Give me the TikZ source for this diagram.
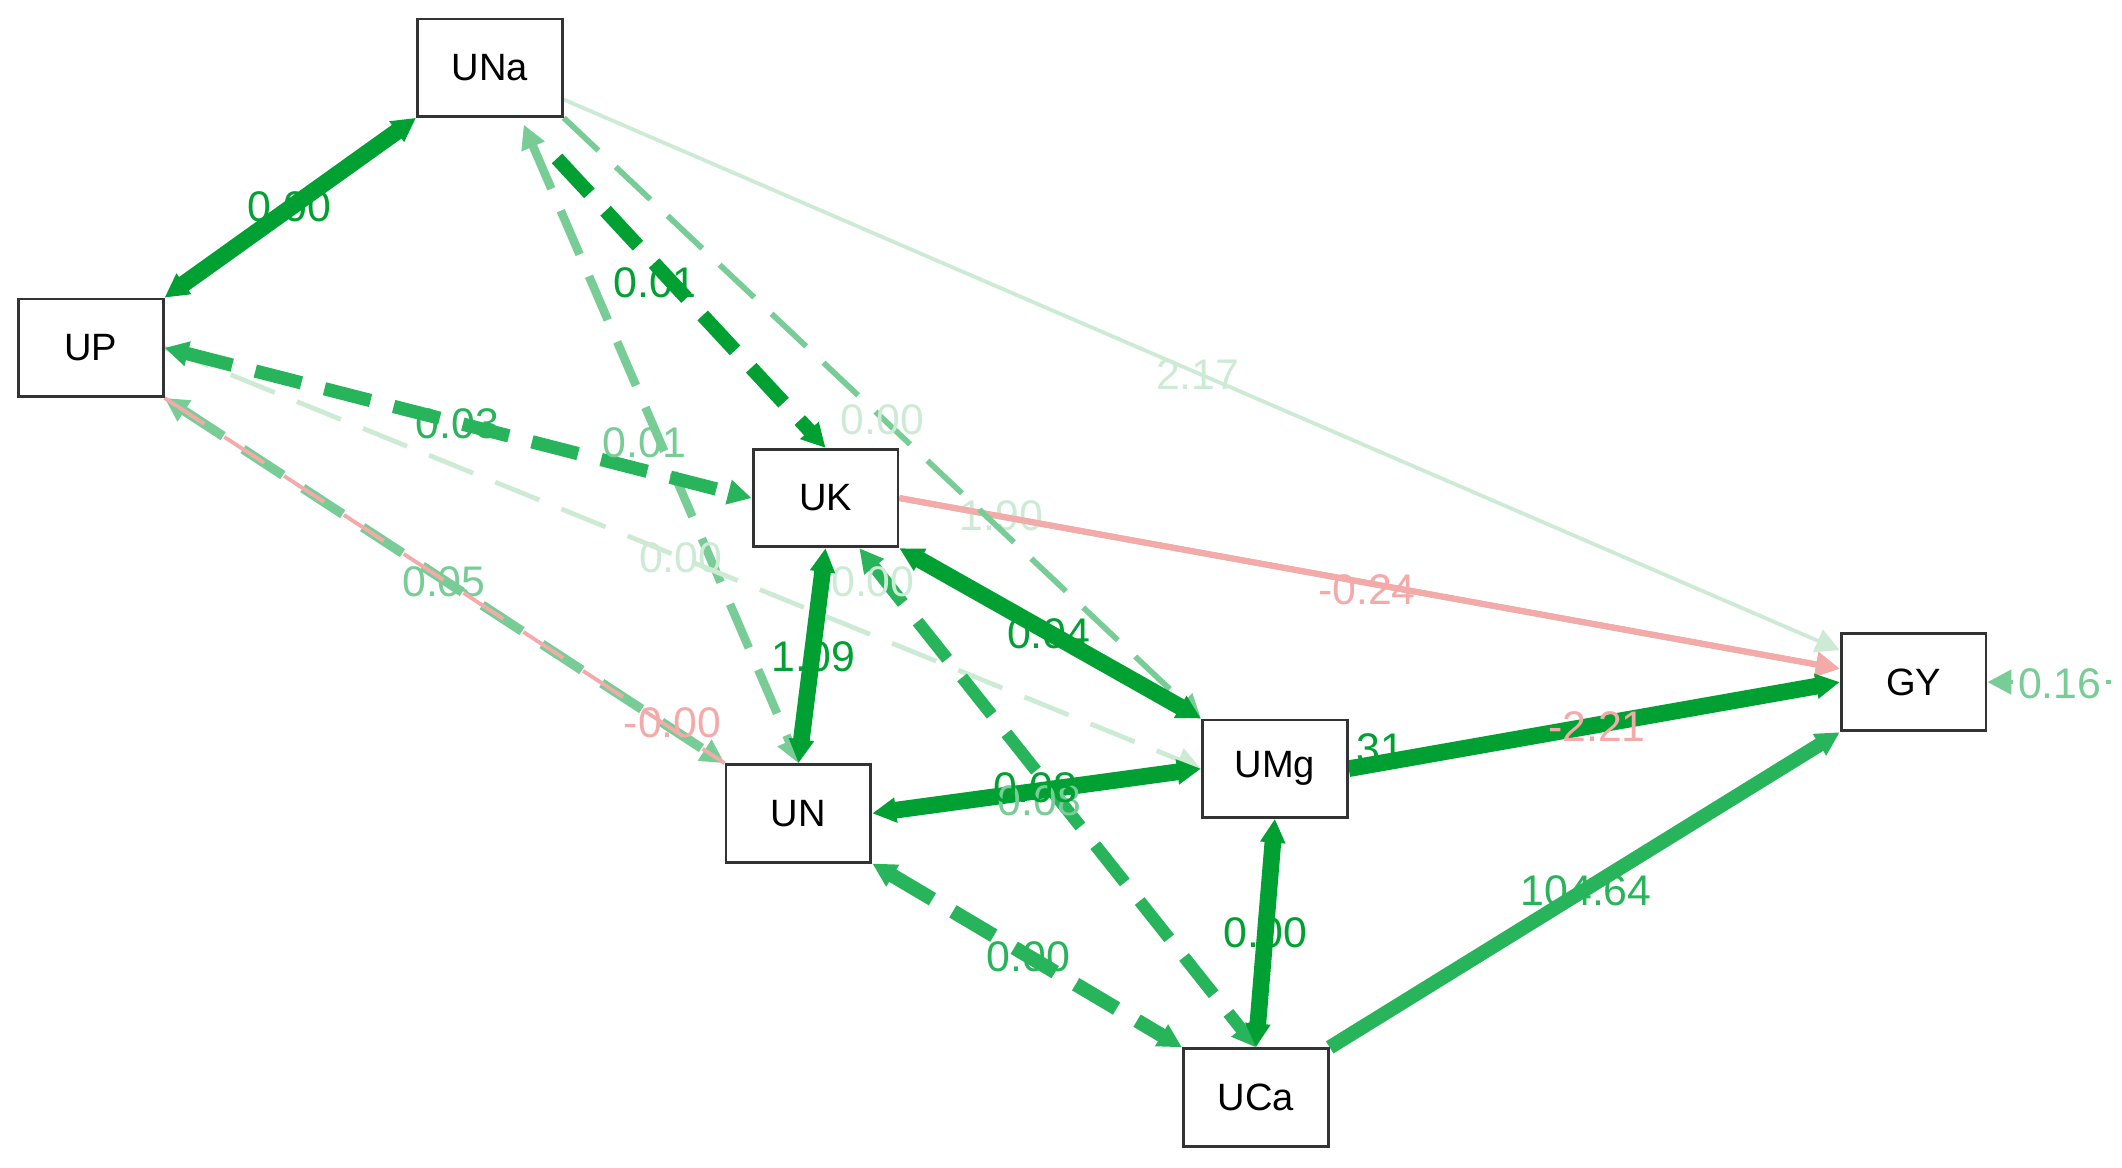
\documentclass[tikz,border=0pt]{standalone}
\usepackage{fontspec}
\setmainfont{Liberation Sans}
\usetikzlibrary{arrows.meta}
\definecolor{dg}{RGB}{0,160,50}
\definecolor{mg}{RGB}{40,180,90}
\definecolor{lg}{RGB}{120,205,150}
\definecolor{vlg}{RGB}{205,235,212}
\definecolor{pk}{RGB}{245,170,170}
\begin{document}
\begin{tikzpicture}[x=0.01cm,y=-0.01cm,font=\fontsize{9}{11}\selectfont,
 box/.style={draw=black!80,line width=0.6pt,fill=white,minimum width=1.07cm,minimum height=0.72cm,inner sep=0,font=\fontsize{8}{10}\selectfont},
 e/.style={-{Triangle[length=5pt,width=5pt]}},
 be/.style={{Triangle[length=5pt,width=5pt]}-{Triangle[length=5pt,width=5pt]}},
 dsh/.style={dash pattern=on 10pt off 5pt},
 lab/.style={inner sep=1pt}]
\useasboundingbox (0,0) rectangle (1568,863);
\node[box] (UNa) at (362,50) {UNa};
\node[box] (UP) at (67,257) {UP};
\node[box] (UK) at (610,368) {UK};
\node[box] (GY) at (1414,504) {GY};
\node[box] (UMg) at (942,568) {UMg};
\node[box] (UN) at (590,601) {UN};
\node[box] (UCa) at (928,811) {UCa};
\coordinate (r) at (1560,504);
\draw[e,vlg,line width=0.8pt] (UNa) -- (GY);
\node[vlg,lab] at (885,277) {2.17};
\draw[e,lg,line width=1.2pt] (UK.east) -- (GY);
\node[vlg,lab] at (740,381) {1.90};
\draw[e,pk,line width=1.3pt] (UK.east) -- (GY);
\node[pk,lab] at (1010,436) {-0.24};
\draw[be,lg,line width=1.8pt,dsh] (UNa.south) ++(25,5) coordinate (a1) (a1) -- (UN.north);
\draw[e,lg,line width=1.2pt,dsh] (UNa.south east) -- (UMg.north west);
\node[vlg,lab] at (652,310) {0.00};
\draw[e,vlg,line width=1pt,dsh] (UP.east) -- (UMg.west);
\node[vlg,lab] at (503,412) {0.00};
\draw[be,lg,line width=2pt,dsh] (UP.south east) -- (UN.north west);
\node[lg,lab] at (328,430) {0.05};
\draw[pk,line width=0.8pt,dsh] (UP.south east) -- (UN.north west);
\node[pk,lab] at (497,534) {-0.00};
\draw[be,mg,line width=2.6pt,dsh] (UK.south) ++(25,0) coordinate (k1) (k1) -- (UCa.north);
\node[vlg,lab] at (645,430) {0.00};
\draw[be,mg,line width=2.8pt,dsh] (UP.east) -- (UK.west);
\node[mg,lab] at (338,313) {0.03};
\node[lg,lab] at (476,327) {0.01};
\draw[e,dg,line width=3pt,dsh] (UNa.south east) ++(-5,30) coordinate (a2) (a2) -- (UK.north);
\node[dg,lab] at (484,209) {0.01};
\draw[be,dg,line width=3.5pt] (UP.north east) -- (UNa.south west);
\node[dg,lab] at (214,153) {0.00};
\draw[be,dg,line width=3.5pt] (UK.south east) -- (UMg.north west);
\node[dg,lab] at (775,468) {0.04};
\draw[be,dg,line width=3.5pt] (UK.south) -- (UN.north);
\node[dg,lab] at (601,485) {1.09};
\draw[be,dg,line width=3.5pt] (UN.east) -- (UMg.west);
\node[lg,lab] at (768,592) {0.08};
\node[dg,lab] at (765,582) {0.08};
\draw[e,dg,line width=3.5pt] (UMg.east) -- (GY.west);
\node[dg,lab] at (1020,553) {31};
\node[pk,lab] at (1180,537) {-2.21};
\draw[be,dg,line width=3.5pt] (UCa.north) -- (UMg.south);
\node[dg,lab] at (935,689) {0.00};
\draw[be,mg,line width=3pt,dsh] (UN.south east) -- (UCa.north west);
\node[mg,lab] at (760,707) {0.00};
\draw[e,mg,line width=3pt] (UCa.north east) -- (GY.south west);
\node[mg,lab] at (1172,658) {104.64};
\draw[e,lg,line width=1pt] (r) -- (GY.east);
\node[lg,lab,fill=white] at (1522,505) {0.16};
\foreach \n in {UNa,UP,UK,GY,UMg,UN,UCa}{\node[box] at (\n) {\n};}
\end{tikzpicture}
\end{document}
